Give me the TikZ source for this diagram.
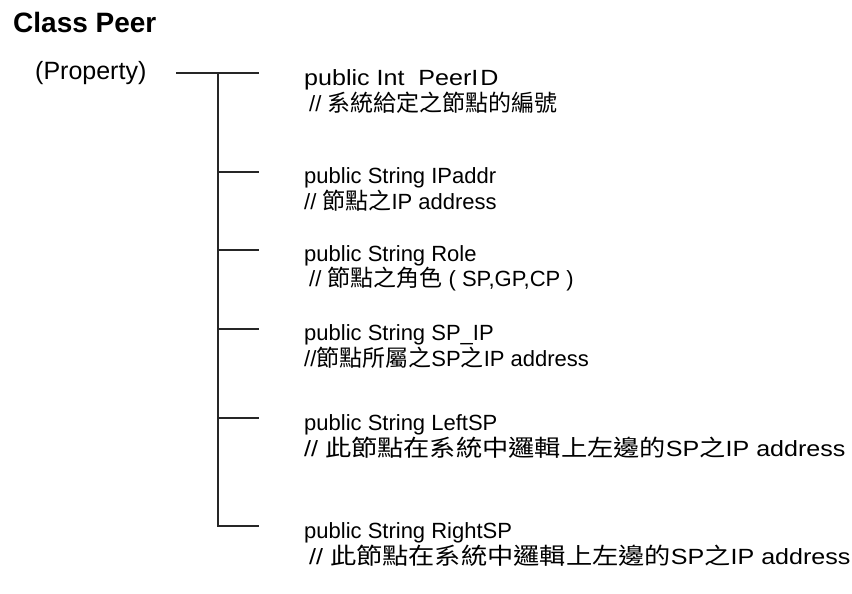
\documentclass[tikz,border=0pt]{standalone}
\usepackage{fontspec}
\setmainfont{Liberation Sans}
\newfontfamily\cjkfont{Noto Sans CJK TC}
\newfontfamily\cjkwide[FakeStretch=1.14]{Noto Sans CJK TC}
\newfontfamily\latwide[FakeStretch=1.14]{Liberation Sans}
\newcommand\zh[1]{{\cjkfont\fontsize{23}{26}\selectfont #1}}
\newcommand\zhw[1]{{\cjkwide\fontsize{23}{26}\selectfont #1}}
\begin{document}
\begin{tikzpicture}[x=1pt,y=-1pt,
  txt/.style={anchor=west,inner sep=0pt,font=\fontsize{22}{26}\selectfont},
  widetxt/.style={anchor=west,inner sep=0pt,font=\latwide\fontsize{22}{26}\selectfont},
  ttl/.style={anchor=west,inner sep=0pt,font=\bfseries\fontsize{28}{30}\selectfont},
  tree/.style={line width=1.3pt,draw=black!85}]
\useasboundingbox (0,0) rectangle (852,594);
\node[ttl] (title) at (13,22) {Class Peer};
\node[txt,font=\fontsize{25}{28}\selectfont] (prop) at (35,73) {(Property)};
% entries
\node[widetxt] (n1) at (304,80) {public Int\ \ PeerI\kern2pt D};
\node[txt] (c1) at (309,103) {// \zh{系統給定之節點的編號}};
\node[txt] (n2) at (304,178) {public String IPaddr};
\node[txt] (c2) at (304,201) {// \zh{節點之}IP address};
\node[txt] (n3) at (304,256) {public String Role};
\node[txt] (c3) at (309,279) {// \zh{節點之角色} ( SP,GP,CP )};
\node[txt] (n4) at (304,335) {public String SP\_IP};
\node[txt] (c4) at (304,358) {//\zh{節點所屬之}SP\zh{之}IP address};
\node[txt] (n5) at (304,425) {public String LeftSP};
\node[widetxt] (c5) at (304,448) {// \zhw{此節點在系統中邏輯上左邊的}SP\zhw{之}IP address};
\node[txt] (n6) at (304,533) {public String RightSP};
\node[widetxt] (c6) at (309,556) {// \zhw{此節點在系統中邏輯上左邊的}SP\zhw{之}IP address};
% tree
\coordinate (s) at (176,73);
\coordinate (j0) at (218,73);
\coordinate (e1) at (259,73);
\coordinate (j2) at (218,172); \coordinate (e2) at (259,172);
\coordinate (j3) at (218,250); \coordinate (e3) at (259,250);
\coordinate (j4) at (218,329); \coordinate (e4) at (259,329);
\coordinate (j5) at (218,418); \coordinate (e5) at (259,418);
\coordinate (j6) at (218,526); \coordinate (e6) at (259,526);
\draw[tree] (s) -- (e1);
\draw[tree] (j0) -- (j6) -- (e6);
\draw[tree] (j2) -- (e2);
\draw[tree] (j3) -- (e3);
\draw[tree] (j4) -- (e4);
\draw[tree] (j5) -- (e5);
\end{tikzpicture}
\end{document}
